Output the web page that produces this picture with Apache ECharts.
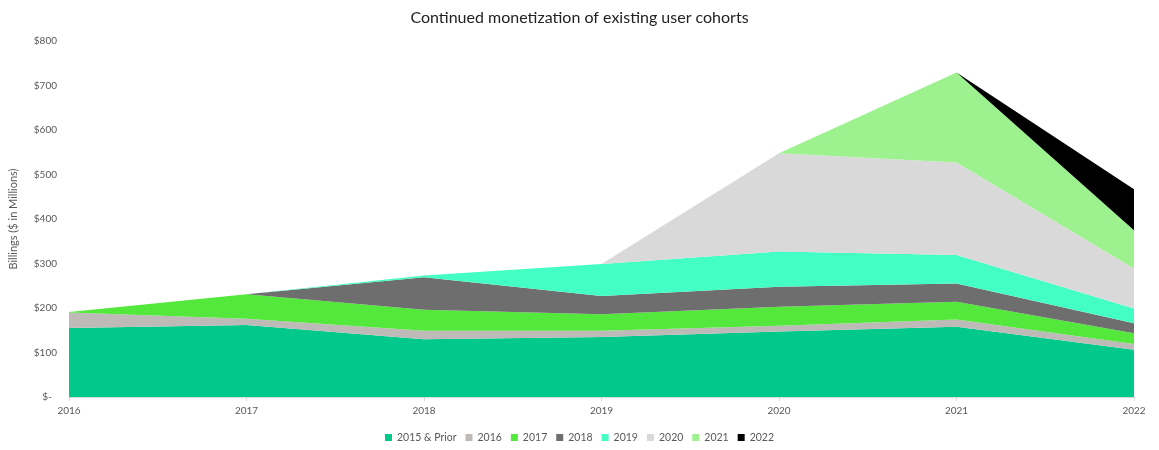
<!DOCTYPE html>
<html>
<head>
<meta charset="utf-8">
<script src="https://cdn.jsdelivr.net/npm/echarts@6/dist/echarts.min.js"></script>
<style>html,body{margin:0;padding:0;background:#fff}#c{width:1159px;height:450px}</style>
</head>
<body>
<div id="c"></div>
<script>
const years = ['2016','2017','2018','2019','2020','2021','2022'];
const cohortNames = ['2015 & Prior','2016','2017','2018','2019','2020','2021','2022'];
const c2015 = [155, 162, 130, 135, 147, 158, 106];
const c2016 = [35, 14, 19, 14, 13, 16, 13];
const c2017 = [1, 55, 47, 37, 43, 40, 24];
const c2018 = [0, 0, 73, 41, 45, 41, 23];
const c2019 = [0, 0, 4, 72, 79, 64, 33];
const c2020 = [0, 0, 0, 0, 221, 208, 90];
const c2021 = [0, 0, 0, 0, 0, 202, 86];
const c2022 = [0, 0, 0, 0, 0, 0, 92];
const yTicks = [0, 100, 200, 300, 400, 500, 600, 700, 800];

const seriesData = [c2015, c2016, c2017, c2018, c2019, c2020, c2021, c2022];
const colors = ['#00C98B', '#BDBAB8', '#55E83C', '#6E6E6E', '#43FFC3', '#D9D9D9', '#9DF28F', '#000000'];
const font = 'Lato, "Open Sans", sans-serif';

const chart = echarts.init(document.getElementById('c'), null, {renderer: 'canvas'});
chart.setOption({
  animation: false,
  color: colors,
  title: {
    text: 'Continued monetization of existing user cohorts',
    left: 'center', top: 5,
    textStyle: {fontFamily: font, fontSize: 16, fontWeight: 'normal', color: '#222'}
  },
  legend: {
    bottom: 2, left: 'center',
    itemWidth: 7, itemHeight: 7, itemGap: 9,
    icon: 'rect',
    textStyle: {fontFamily: font, fontSize: 10.5, color: '#595959'},
    data: cohortNames
  },
  grid: {left: 66, right: 25, top: 41, bottom: 53},
  xAxis: {
    type: 'category', boundaryGap: false, data: years,
    axisLine: {lineStyle: {color: '#D9D9D9'}},
    axisTick: {show: true, lineStyle: {color: '#D9D9D9'}, length: 4},
    axisLabel: {fontFamily: font, fontSize: 10, color: '#595959', margin: 9}
  },
  yAxis: {
    type: 'value', min: 0, max: 800, interval: 100,
    name: 'Billings ($ in Millions)', nameLocation: 'middle', nameGap: 50,
    nameTextStyle: {fontFamily: font, fontSize: 11, color: '#595959'},
    axisLine: {show: false}, axisTick: {show: false}, splitLine: {show: false},
    axisLabel: {fontFamily: font, fontSize: 10, color: '#595959', margin: 12,
      formatter: v => yTicks.includes(v) ? (v === 0 ? '$-  ' : '$' + v) : ''}
  },
  series: seriesData.map((d, i) => ({
    name: cohortNames[i], type: 'line', stack: 'total', data: d,
    symbol: 'none', lineStyle: {width: 0},
    areaStyle: {color: colors[i], opacity: 1}
  }))
});
</script>
</body>
</html>
